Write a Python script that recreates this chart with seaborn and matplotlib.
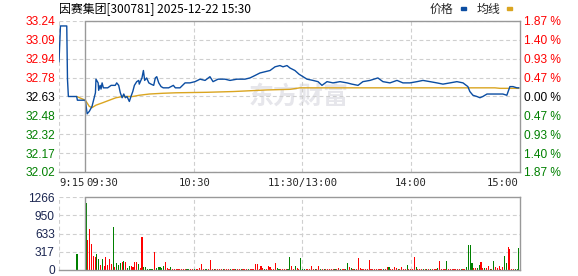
import numpy as np
import pandas as pd
import matplotlib
matplotlib.use("Agg")
import matplotlib.pyplot as plt
import seaborn as sns
from matplotlib.patches import Rectangle

# ---------------- data ----------------
title_name = "因赛集团[300781]"
title_time = "2025-12-22 15:30"
prev_close = 32.63

price_tick_labels = ["33.24", "33.09", "32.94", "32.78", "32.63", "32.48", "32.32", "32.17", "32.02"]
pct_tick_labels = ["1.87 %", "1.40 %", "0.93 %", "0.47 %", "0.00 %", "0.47 %", "0.93 %", "1.40 %", "1.87 %"]
price_lo, price_hi = 32.02, 33.24

time_ticks = [-15, 0, 60, 120, 180, 240]          # minutes from 09:30
time_labels = ["9:15", "09:30", "10:30", "11:30/13:00", "14:00", "15:00"]

price_t = [-15, -14.2, -10.7, -10.3, -9.8, -5.2, -4.8, -0.4, 0.6, 1.8, 3.3, 5.2, 5.5, 6.7, 7.0,
           7.8, 8.3, 8.9, 9.6, 12.0, 13.9, 15.1, 16.2, 17.0, 18.1, 19.0, 20.0, 20.9, 21.8, 22.7,
           24.0, 24.9, 25.9, 26.8, 28.1, 29.2, 29.5, 31.0, 31.8, 32.5, 33.6, 34.8, 36.0, 37.5,
           38.4, 39.2, 40.3, 41.6, 42.8, 44.3, 45.8, 47.1, 48.4, 49.5, 52.1, 54.9, 57.6, 60.4,
           63.2, 66.0, 68.7, 70.4, 73.2, 77.0, 79.8, 83.7, 88.1, 90.9, 93.7, 96.4, 99.2, 102.0,
           104.8, 107.5, 109.2, 111.4, 113.1, 115.8, 118.1, 120.3, 122.5, 125.8, 128.6, 130.8,
           133.6, 136.9, 140.8, 144.7, 147.4, 150.8, 153.5, 157.4, 161.8, 164.6, 168.5, 172.4,
           175.7, 179.6, 183.5, 186.8, 190.7, 194.5, 197.9, 201.8, 205.6, 209.0, 211.7, 212.8,
           214.5, 216.7, 218.4, 220.0, 222.3, 223.9, 226.7, 229.5, 231.1, 233.3, 235.0, 236.7,
           238.9, 240]
price_v = [32.91, 33.20, 33.20, 32.77, 32.63, 32.63, 32.60, 32.60, 32.49, 32.51, 32.55, 32.66, 32.77,
           32.74, 32.68, 32.72, 32.69, 32.74, 32.70, 32.70, 32.72, 32.72, 32.72, 32.74, 32.72,
           32.66, 32.62, 32.65, 32.62, 32.63, 32.59, 32.63, 32.67, 32.72, 32.75, 32.76, 32.73,
           32.78, 32.84, 32.76, 32.78, 32.74, 32.73, 32.72, 32.78, 32.79, 32.74, 32.71, 32.70,
           32.70, 32.70, 32.71, 32.72, 32.70, 32.70, 32.74, 32.74, 32.75, 32.77, 32.76, 32.79,
           32.75, 32.77, 32.77, 32.76, 32.77, 32.77, 32.78, 32.80, 32.82, 32.83, 32.84, 32.87,
           32.88, 32.87, 32.88, 32.86, 32.84, 32.81, 32.79, 32.77, 32.76, 32.75, 32.72, 32.75,
           32.74, 32.75, 32.74, 32.73, 32.72, 32.75, 32.76, 32.78, 32.75, 32.74, 32.76, 32.74,
           32.74, 32.75, 32.76, 32.75, 32.74, 32.73, 32.74, 32.75, 32.74, 32.71, 32.67, 32.64,
           32.63, 32.62, 32.63, 32.65, 32.65, 32.65, 32.65, 32.65, 32.64, 32.71, 32.71, 32.70,
           32.70]

avg_t = [-5.2, -0.4, 1.8, 3.3, 5.5, 9.3, 12.9, 16.6, 20.3, 25.9, 29.5, 35.1, 42.5, 49.9, 67.1,
         81.5, 100.3, 113.1, 118.6, 226.7, 229.5, 240]
avg_v = [32.63, 32.60, 32.55, 32.54, 32.56, 32.58, 32.60, 32.62, 32.63, 32.63, 32.64, 32.65,
         32.656, 32.66, 32.664, 32.67, 32.683, 32.688, 32.70, 32.70, 32.696, 32.696]

pre_vol_t = [-5]
pre_vol_v = [273]
pre_vol_dir = ["g"]

# one value per minute 09:30 .. 15:00, rows of ten
vol_v = [
    1166, 512, 705, 444, 239, 228, 273, 188, 85, 188,
    74, 228, 85, 199, 102, 751, 57, 120, 85, 114,
    142, 154, 142, 28, 74, 74, 57, 137, 137, 102,
    28, 580, 57, 57, 23, 23, 23, 23, 307, 40,
    57, 57, 28, 74, 137, 28, 23, 51, 20, 20,
    20, 20, 20, 20, 23, 20, 20, 20, 20, 20,
    20, 20, 20, 40, 102, 20, 20, 20, 20, 171,
    20, 20, 20, 20, 20, 20, 20, 20, 20, 20,
    20, 20, 20, 20, 20, 20, 20, 20, 20, 20,
    20, 20, 20, 20, 102, 102, 20, 68, 34, 20,
    20, 68, 51, 20, 20, 120, 34, 20, 20, 20,
    20, 20, 20, 222, 68, 20, 68, 34, 20, 205,
    20, 20, 20, 20, 20, 68, 20, 20, 20, 68,
    20, 20, 20, 20, 20, 20, 20, 20, 20, 20,
    34, 20, 20, 20, 20, 120, 51, 34, 20, 20,
    20, 205, 34, 20, 20, 20, 20, 171, 20, 20,
    20, 20, 20, 20, 20, 20, 20, 51, 51, 20,
    20, 51, 34, 20, 20, 51, 20, 20, 80, 20,
    20, 20, 222, 51, 20, 20, 20, 20, 20, 20,
    20, 20, 20, 20, 20, 34, 154, 20, 20, 20,
    154, 20, 20, 20, 20, 20, 20, 20, 20, 20,
    20, 51, 427, 427, 120, 34, 34, 34, 85, 137,
    34, 34, 34, 68, 20, 20, 154, 51, 34, 68,
    20, 51, 239, 120, 393, 358, 20, 20, 20, 20,
    376,
]
vol_dir = list(
    "grrrrrggrg" "rrrrrgrggg" "rgrggrrrrg" "rrggggggrg" "ggggrrrgrr"
    "rrrrrrggrr" "grrrrrggrr" "rgrrrrgrrr" "grrgrrgrrr" "grrrrrrrrg"
    "rrrrrrggrr" "rrggrrgrrg" "ggrrrrrgrr" "grgrrrrrgr" "rgrrggrgrg"
    "rrrrrrrrrr" "rrrrrgrrgr" "rrrgrrrrgr" "rrrgrrrgrg" "rgrrrgrrrr"
    "grrrrrrrgr" "rggggrrggr" "rgrrgrgrrr" "rrggrrrrgg" "g"
)

vol_ticks = [0, 317, 633, 950, 1266]

# ---------------- style ----------------
RED = "#FF0000"
GREEN = "#008000"
BLUE = "#0B4DA2"
GOLD = "#DAA520"
GRID = "#CFCFCF"
FRAME = "#999999"
DASH = (0, (3.5, 2.5))
FRAME_X = -0.6   # left frame line sits just left of the first minute bar

sns.set_theme(style="white")
plt.rcParams["font.family"] = ["Liberation Sans", "Noto Sans CJK SC", "DejaVu Sans"]

fig = plt.figure(figsize=(5.78, 2.76), dpi=100)
W, H = 578.0, 276.0

def axrect(l, t, r, b):
    return [l / W, 1 - b / H, (r - l) / W, (b - t) / H]

ax = fig.add_axes(axrect(59, 21, 520, 172))
axv = fig.add_axes(axrect(59, 197, 520, 270))

XMIN, XMAX = -15, 240.6
vol_df = pd.DataFrame({
    "t": pre_vol_t + list(range(len(vol_v))),
    "v": pre_vol_v + vol_v,
    "d": pre_vol_dir + vol_dir,
})

# watermark
ax.text(0.52, 0.50, "东方财富", transform=ax.transAxes, ha="center", va="center",
        fontsize=18, fontweight="bold", color="#E6E6EB", zorder=0,
        family=["Noto Sans CJK SC", "DejaVu Sans"])

sns.lineplot(x=avg_t, y=avg_v, ax=ax, color=GOLD, lw=1.0, estimator=None, sort=False, zorder=3)
sns.lineplot(x=price_t, y=price_v, ax=ax, color=BLUE, lw=1.0, estimator=None, sort=False, zorder=4)

sns.barplot(data=vol_df, x="t", y="v", hue="d", palette={"r": RED, "g": GREEN},
            native_scale=True, dodge=False, width=0.62, saturation=1, errorbar=None,
            legend=False, ax=axv, linewidth=0, antialiased=False)

yt = np.linspace(price_lo, price_hi, len(price_tick_labels))[::-1]
label_colors = [RED] * 4 + ["#000000"] + [GREEN] * 4

for a in (ax, axv):
    a.set_xlim(XMIN, XMAX)
    a.set_xlabel("")
    a.set_ylabel("")
    for s in a.spines.values():
        s.set_color(FRAME)
        s.set_linewidth(1.0)
    a.spines["left"].set_visible(False)
    a.spines["top"].set_bounds(FRAME_X, XMAX)
    a.axvline(FRAME_X, color=FRAME, lw=1.0, zorder=5)
    for gx in [-15, 60, 120, 180]:
        a.axvline(gx, color=GRID, lw=0.8, ls=DASH, zorder=0.5)
    a.tick_params(length=0, pad=3)
    a.set_facecolor("white")

ax.set_ylim(price_lo, price_hi)
ax.set_yticks(yt)
ax.set_yticklabels(price_tick_labels, fontsize=8.6)
for lab, c in zip(ax.get_yticklabels(), label_colors):
    lab.set_color(c)
for y in yt:
    ax.axhline(y, color=GRID, lw=0.8, ls=DASH, zorder=0.5)

ax.set_xticks(time_ticks)
ax.set_xticklabels(time_labels, fontsize=7.6, family=["DejaVu Sans Mono"])
for lab, ha in zip(ax.get_xticklabels(), ["left", "left", "center", "center", "center", "right"]):
    lab.set_ha(ha)
ax.tick_params(axis="x", pad=4)

axr = ax.twinx()
axr.set_ylim(price_lo, price_hi)
axr.set_yticks(yt)
axr.set_yticklabels(pct_tick_labels, fontsize=8.6)
for lab, c in zip(axr.get_yticklabels(), label_colors):
    lab.set_color(c)
axr.tick_params(length=0, pad=3)
for s in axr.spines.values():
    s.set_visible(False)
axr.grid(False)

axv.set_ylim(0, 1266)
axv.set_yticks(vol_ticks)
axv.set_yticklabels([str(v) for v in vol_ticks], fontsize=8.6, color="#1A2550")
axv.set_xticks([])
for y in vol_ticks[1:-1]:
    axv.axhline(y, color=GRID, lw=0.8, ls=DASH, zorder=0.5)
axv.axhline(1266, xmin=0, xmax=(FRAME_X - XMIN) / (XMAX - XMIN), color=GRID, lw=0.8, ls=DASH,
            zorder=0.5)

# header texts
fig.text(59 / W, 1 - 9 / H, f"{title_name} {title_time}", ha="left", va="center",
         fontsize=8.6, color="#000000", family=["Noto Sans CJK SC", "DejaVu Sans"])
fig.text(453 / W, 1 - 9.5 / H, "价格", ha="right", va="center", fontsize=8.6,
         family=["Noto Sans CJK SC", "DejaVu Sans"])
fig.text(500 / W, 1 - 9.5 / H, "均线", ha="right", va="center", fontsize=8.6,
         family=["Noto Sans CJK SC", "DejaVu Sans"])
fig.patches.append(Rectangle((461 / W, 1 - 10 / H), 5 / W, 3 / H, transform=fig.transFigure,
                             color=BLUE, figure=fig))
fig.patches.append(Rectangle((507 / W, 1 - 10 / H), 5 / W, 3 / H, transform=fig.transFigure,
                             color=GOLD, figure=fig))

fig.savefig("out.png", dpi=100, facecolor="white")
